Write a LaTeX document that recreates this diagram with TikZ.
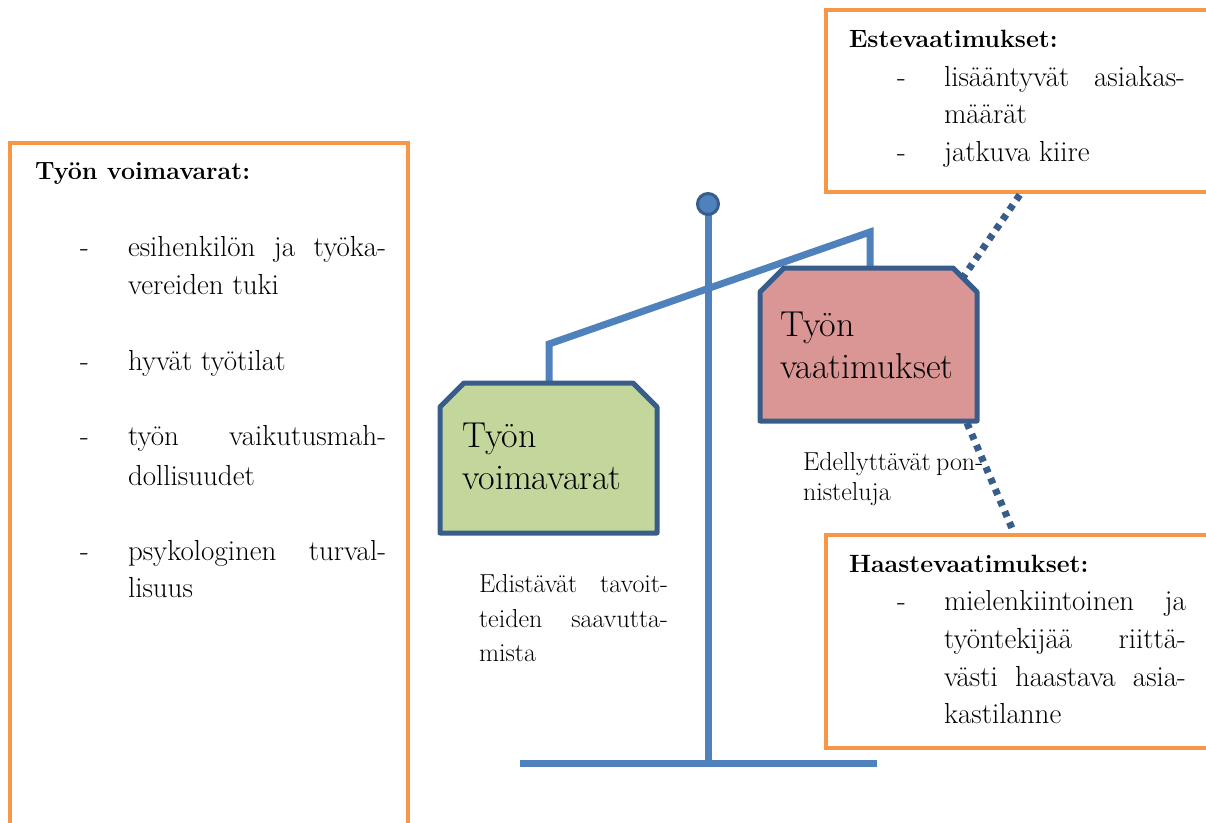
\documentclass[tikz,border=0pt]{standalone}
\usepackage{fontspec}
\usetikzlibrary{calc}
\definecolor{orangeb}{HTML}{F79646}
\definecolor{bluel}{HTML}{4F81BD}
\definecolor{darkb}{HTML}{385D8A}
\definecolor{greenw}{HTML}{C3D69B}
\definecolor{redw}{HTML}{D99694}
\newcommand{\bodyfont}{\fontsize{29}{34}\selectfont}
\newcommand{\headfont}{\fontsize{25}{30}\selectfont\bfseries}
\newcommand{\smallfont}{\fontsize{26}{30}\selectfont}
\newcommand{\bigfont}{\fontsize{36}{42}\selectfont}
\begin{document}
\begin{tikzpicture}[x=1pt,y=-1pt,
  obox/.style={draw=orangeb, line width=4pt, rectangle, inner sep=0, outer sep=0, anchor=north west},
  wnode/.style={rectangle, inner sep=0, outer sep=0, anchor=north west},
  wline/.style={draw=darkb, line width=5pt, line join=round},
  beam/.style={draw=bluel, line width=7pt},
  dots/.style={draw=darkb, line width=7pt, dash pattern=on 6pt off 6pt},
  txt/.style={anchor=base west, inner sep=0, outer sep=0, font=\bodyfont},
  htxt/.style={anchor=base west, inner sep=0, outer sep=0, font=\headfont},
  stxt/.style={anchor=base west, inner sep=0, outer sep=0, font=\smallfont},
  btxt/.style={anchor=base west, inner sep=0, outer sep=0, font=\bigfont}]
\clip (0,0) rectangle (1206,822);
\fill[white] (0,0) rectangle (1206,822);

% orange boxes
\node[obox, minimum width=398pt, minimum height=720pt] (leftbox) at (10,143) {};
\node[obox, minimum width=420pt, minimum height=182pt] (estebox) at (826,10) {};
\node[obox, minimum width=420pt, minimum height=213pt] (haastebox) at (826,535) {};

% scale
\coordinate (poletop) at (708,204);
\coordinate (polebot) at (708,763);
\coordinate (baseL) at (520,763);
\coordinate (baseR) at (877,763);
\coordinate (beamL) at (549,344);
\coordinate (beamR) at (870,232);
\coordinate (hangL) at (549,383);
\coordinate (hangR) at (870,268);
\draw[beam] (poletop) -- (polebot);
\draw[beam] (baseL) -- (baseR);
\draw[beam] (hangL) -- (beamL) -- (beamR) -- (hangR);
\node[circle, fill=bluel, draw=darkb, line width=3pt, minimum size=21pt, inner sep=0] (knob) at (poletop) {};

% weights
\node[wnode, minimum width=217pt, minimum height=150pt] (wgreen) at (440,383) {};
\draw[wline, fill=greenw] (wgreen.south west) -- ($(wgreen.north west)+(0,24)$)
  -- ($(wgreen.north west)+(24,0)$) -- ($(wgreen.north east)+(-24,0)$)
  -- ($(wgreen.north east)+(0,24)$) -- (wgreen.south east) -- cycle;
\node[wnode, minimum width=217pt, minimum height=153pt] (wred) at (760,268) {};
\draw[wline, fill=redw] (wred.south west) -- ($(wred.north west)+(0,24)$)
  -- ($(wred.north west)+(24,0)$) -- ($(wred.north east)+(-24,0)$)
  -- ($(wred.north east)+(0,24)$) -- (wred.south east) -- cycle;

% dotted connectors
\coordinate (d1a) at (962,279);
\coordinate (d1b) at (1021,193);
\coordinate (d2a) at (967,423);
\coordinate (d2b) at (1014,533);
\draw[dots] (d1a) -- (d1b);
\draw[dots] (d2a) -- (d2b);

% weight texts
\node[btxt] (g1) at (462,447) {Työn};
\node[btxt] (g2) at (462,489) {voimavarat};
\node[btxt] (r1) at (780,336) {Työn};
\node[btxt] (r2) at (780,378) {vaatimukset};

% small texts
\node[stxt] (e1) at (803,470) {\makebox[179pt][s]{Edellyttävät pon-}};
\node[stxt] (e2) at (803,500) {nisteluja};
\node[stxt] (f1) at (479,592) {\makebox[189pt][s]{Edistävät tavoit-}};
\node[stxt] (f2) at (479,627) {\makebox[189pt][s]{teiden saavutta-}};
\node[stxt] (f3) at (479,661) {mista};

% left box text
\node[htxt] (lh) at (35,179) {Työn voimavarat:};
\node[txt] (ld1) at (80,256) {-};
\node[txt] (l1) at (128,256) {\makebox[258pt][s]{esihenkilön ja työka-}};
\node[txt] (l2) at (128,294) {vereiden tuki};
\node[txt] (ld2) at (80,370) {-};
\node[txt] (l3) at (128,370) {hyvät työtilat};
\node[txt] (ld3) at (80,445) {-};
\node[txt] (l4) at (128,445) {\makebox[258pt][s]{työn vaikutusmah-}};
\node[txt] (l5) at (128,485) {dollisuudet};
\node[txt] (ld4) at (80,560) {-};
\node[txt] (l6) at (128,560) {\makebox[258pt][s]{psykologinen turval-}};
\node[txt] (l7) at (128,597) {lisuus};

% top right text
\node[htxt] (th) at (849,47) {Estevaatimukset:};
\node[txt] (td1) at (897,86) {-};
\node[txt] (t1) at (944,86) {\makebox[241pt][s]{lisääntyvät asiakas-}};
\node[txt] (t2) at (944,123) {määrät};
\node[txt] (td2) at (897,161) {-};
\node[txt] (t3) at (944,161) {jatkuva kiire};

% bottom right text
\node[htxt] (bh) at (849,572) {Haastevaatimukset:};
\node[txt] (bd1) at (897,610) {-};
\node[txt] (b1) at (944,610) {\makebox[242pt][s]{mielenkiintoinen ja}};
\node[txt] (b2) at (944,648) {\makebox[242pt][s]{työntekijää riittä-}};
\node[txt] (b3) at (944,686) {\makebox[242pt][s]{västi haastava asia-}};
\node[txt] (b4) at (944,723) {kastilanne};
\end{tikzpicture}
\end{document}
